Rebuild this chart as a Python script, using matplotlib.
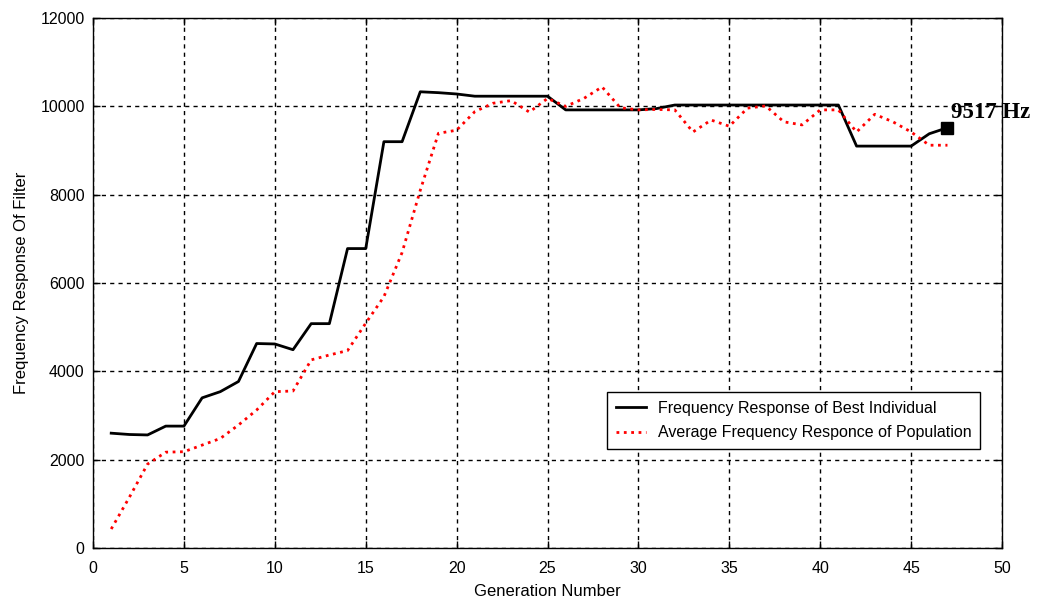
#!/usr/bin/env python3
"""
Frequency response of filter vs generation number
"""

import matplotlib
matplotlib.use('Agg')
import matplotlib.pyplot as plt

plt.rcParams['font.family'] = ['Liberation Sans', 'DejaVu Sans']

# data
generations = list(range(1, 48))

best = [2600, 2570, 2560, 2760, 2760, 3400, 3540, 3770, 4630, 4620,
        4490, 5080, 5080, 6780, 6780, 9200, 9200, 10330, 10310, 10280,
        10230, 10230, 10230, 10230, 10230, 9920, 9920, 9920, 9920, 9920,
        9950, 10030, 10030, 10030, 10030, 10030, 10030, 10030, 10030, 10030,
        10030, 9100, 9100, 9100, 9100, 9380, 9517]

average = [430, 1150, 1900, 2170, 2180, 2330, 2480, 2785, 3125, 3540,
           3555, 4260, 4370, 4470, 5090, 5690, 6690, 8100, 9390, 9460,
           9880, 10070, 10130, 9870, 10180, 10000, 10180, 10440, 9970, 9920,
           9930, 9920, 9420, 9690, 9550, 9960, 10010, 9650, 9580, 9920,
           9920, 9420, 9820, 9650, 9420, 9120, 9120]

final_label = '9517 Hz'

fig = plt.figure(figsize=(10.43, 6.03), dpi=100)
ax = fig.add_axes([0.0892, 0.0912, 0.8715, 0.8789])

ax.plot(generations, best, color='black', linewidth=2,
        label='Frequency Response of Best Individual')
ax.plot(generations, average, color='red', linewidth=2, linestyle=':',
        label='Average Frequency Responce of Population')
ax.plot(generations[-1], best[-1], marker='s', color='black', markersize=8.5,
        clip_on=False)
ax.text(generations[-1] + 0.2, best[-1] + 230, final_label,
        family=['Liberation Serif', 'DejaVu Serif'], fontsize=16.5,
        fontweight='bold', ha='left', va='baseline')

ax.set_xlim(0, 50)
ax.set_ylim(0, 12000)
ax.set_xticks(range(0, 51, 5))
ax.set_yticks(range(0, 12001, 2000))

ax.grid(True, color='black', linestyle=(0, (3, 3)), linewidth=1)
ax.tick_params(direction='in', top=True, right=True, labelsize=11.5,
               length=5, width=1, pad=6)
ax.tick_params(axis='x', pad=9)
for s in ax.spines.values():
    s.set_linewidth(1)

ax.set_xlabel('Generation Number', fontsize=12, labelpad=6)
ax.set_ylabel('Frequency Response Of Filter', fontsize=12, labelpad=8)

leg = ax.legend(loc='lower right', bbox_to_anchor=(0.9758, 0.1868),
                borderaxespad=0, fontsize=11.5, fancybox=False, framealpha=1,
                edgecolor='black', handlelength=1.9, handletextpad=0.7,
                borderpad=0.55, labelspacing=0.6)
leg.get_frame().set_linewidth(1)

fig.savefig('out.png', dpi=100)
print("out.png saved")
